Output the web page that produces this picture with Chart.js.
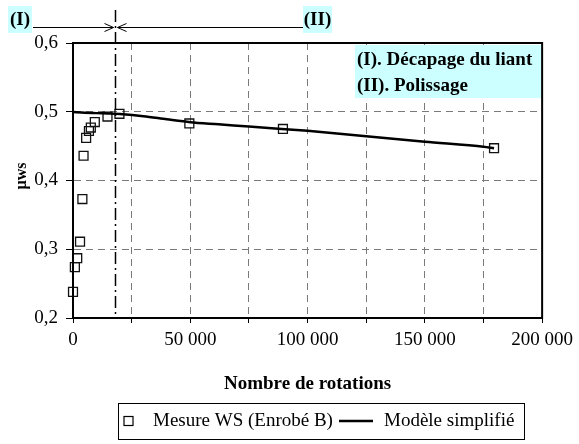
<!DOCTYPE html>
<html lang="fr">
<head>
<meta charset="UTF-8">
<title>Mesure WS - Enrobé B</title>
<script src="https://cdn.jsdelivr.net/npm/chart.js"></script>
<style>
    html, body { margin: 0; padding: 0; background: #fff; }
    #wrap { width: 579px; height: 444px; position: relative; }
</style>
</head>
<body>
<div id="wrap"><canvas id="chart"></canvas></div>
<script>
// measured friction (squares)
const measX = [0, 800, 1800, 3000, 4000, 4500, 5600, 6800, 7600, 9300, 14700, 19800, 49600, 89500, 179500];
const measY = [0.238, 0.274, 0.287, 0.311, 0.373, 0.436, 0.462, 0.472, 0.477, 0.485, 0.493, 0.497, 0.483, 0.475, 0.447];

// simplified model (solid line)
const modelX = [0, 5000, 10000, 15000, 20000, 30000, 40000, 50000, 62000, 75000, 100000, 125000, 150000, 175000, 179500];
const modelY = [0.4995, 0.4985, 0.498, 0.4975, 0.4967, 0.4935, 0.489, 0.4848, 0.4818, 0.4785, 0.4722, 0.4642, 0.4565, 0.4492, 0.4468];

// boundary between phase I and phase II
const phaseLimit = 17800;

const yTicks = [0.2, 0.3, 0.4, 0.5, 0.6];
const xLabelStep = 50000;

const SERIF = '"Liberation Serif", "Times New Roman", serif';
const CYAN = '#ccffff';
const GRID_DASH = [7, 5];

function thousands(v) {
    return String(v).replace(/\B(?=(\d{3})+(?!\d))/g, ' ');
}

const decor = {
    id: 'decor',
    afterDraw(chart) {
        const { ctx, chartArea: a, scales } = chart;
        const xs = scales.x;
        ctx.save();

        // frame around plot area
        ctx.strokeStyle = '#000';
        ctx.lineWidth = 2;
        ctx.setLineDash([]);
        ctx.strokeRect(a.left, a.top, a.right - a.left, a.bottom - a.top);

        // dash-dot phase limit
        const px = Math.round(xs.getPixelForValue(phaseLimit)) + 0.5;
        ctx.lineWidth = 1.5;
        ctx.setLineDash([12, 4, 2, 4]);
        ctx.beginPath();
        ctx.moveTo(px, 10);
        ctx.lineTo(px, a.bottom);
        ctx.stroke();
        ctx.setLineDash([]);

        // phase arrows above the plot
        ctx.lineWidth = 1;
        ctx.beginPath();
        ctx.moveTo(33, 27.5); ctx.lineTo(px - 2, 27.5);
        ctx.moveTo(px + 2, 27.5); ctx.lineTo(303, 27.5);
        ctx.moveTo(px - 11, 23.5); ctx.lineTo(px - 2, 27.5); ctx.lineTo(px - 11, 31.5);
        ctx.moveTo(px + 11, 23.5); ctx.lineTo(px + 2, 27.5); ctx.lineTo(px + 11, 31.5);
        ctx.stroke();

        ctx.font = 'bold 19px ' + SERIF;
        ctx.textBaseline = 'middle';
        ctx.textAlign = 'center';
        ctx.fillStyle = CYAN;
        ctx.fillRect(8, 6, 24, 27);
        ctx.fillRect(303, 6, 29, 27);
        ctx.fillStyle = '#000';
        ctx.fillText('(I)', 20, 20);
        ctx.fillText('(II)', 317.5, 20);

        // phase caption box
        ctx.fillStyle = CYAN;
        ctx.fillRect(355, 45, 186, 53);
        ctx.fillStyle = '#000';
        ctx.textAlign = 'left';
        ctx.fillText('(I). Décapage du liant', 357, 60);
        ctx.fillText('(II). Polissage', 357, 86);

        // axis titles
        ctx.textAlign = 'center';
        ctx.fillText('Nombre de rotations', (a.left + a.right) / 2, 384);
        ctx.save();
        ctx.translate(22, 176);
        ctx.rotate(-Math.PI / 2);
        ctx.font = 'bold 16px ' + SERIF;
        ctx.fillText('µws', 0, 0);
        ctx.restore();

        // legend
        const ly = 421;
        ctx.lineWidth = 1;
        ctx.strokeStyle = '#000';
        ctx.strokeRect(118.5, 403.5, 406, 36);
        ctx.lineWidth = 1.2;
        ctx.strokeRect(124, ly - 4.5, 9, 9);
        ctx.font = '19px ' + SERIF;
        ctx.textAlign = 'left';
        ctx.fillText('Mesure WS (Enrobé B)', 153, ly);
        ctx.lineWidth = 2.5;
        ctx.beginPath();
        ctx.moveTo(339, ly); ctx.lineTo(373, ly);
        ctx.stroke();
        ctx.fillText('Modèle simplifié', 384, ly);

        ctx.restore();
    }
};

new Chart(document.getElementById('chart'), {
    type: 'scatter',
    data: {
        datasets: [
            {
                label: 'Modèle simplifié',
                data: modelX.map((x, i) => ({ x, y: modelY[i] })),
                showLine: true,
                borderColor: '#000',
                borderWidth: 2.5,
                pointRadius: 0,
                tension: 0.3,
                order: 0
            },
            {
                label: 'Mesure WS (Enrobé B)',
                data: measX.map((x, i) => ({ x, y: measY[i] })),
                pointStyle: 'rect',
                pointRadius: 6.3,
                pointBorderWidth: 1.3,
                borderColor: '#111',
                backgroundColor: 'rgba(0,0,0,0)',
                clip: false,
                order: 1
            }
        ]
    },
    options: {
        responsive: true,
        maintainAspectRatio: false,
        animation: false,
        layout: { padding: { top: 43, right: 34, left: 0, bottom: 0 } },
        plugins: { legend: { display: false }, tooltip: { enabled: false } },
        scales: {
            x: {
                type: 'linear',
                min: 0,
                max: 200000,
                afterFit(s) { s.height = 126; },
                afterBuildTicks(s) {
                    s.ticks = [];
                    for (let v = 0; v <= 200000; v += 25000) s.ticks.push({ value: v });
                },
                ticks: {
                    autoSkip: false,
                    maxRotation: 0,
                    padding: 6,
                    color: '#000',
                    font: { family: SERIF, size: 19 },
                    callback: v => (v % xLabelStep === 0 ? thousands(v) : '')
                },
                grid: {
                    color: '#7a7a7a', lineWidth: 1, tickLength: 5, tickColor: '#000',
                    borderDash: GRID_DASH, tickBorderDash: []
                },
                border: { display: true, color: '#000', width: 2, dash: GRID_DASH }
            },
            y: {
                type: 'linear',
                min: 0.2,
                max: 0.6,
                afterFit(s) { s.width = 73; },
                afterBuildTicks(s) { s.ticks = yTicks.map(v => ({ value: v })); },
                ticks: {
                    padding: 8,
                    color: '#000',
                    font: { family: SERIF, size: 19 },
                    callback: v => v.toFixed(1).replace('.', ',')
                },
                grid: {
                    color: '#7a7a7a', lineWidth: 1, tickLength: 7, tickColor: '#000',
                    borderDash: GRID_DASH, tickBorderDash: []
                },
                border: { display: true, color: '#000', width: 2, dash: GRID_DASH }
            }
        }
    },
    plugins: [decor]
});
</script>
</body>
</html>
